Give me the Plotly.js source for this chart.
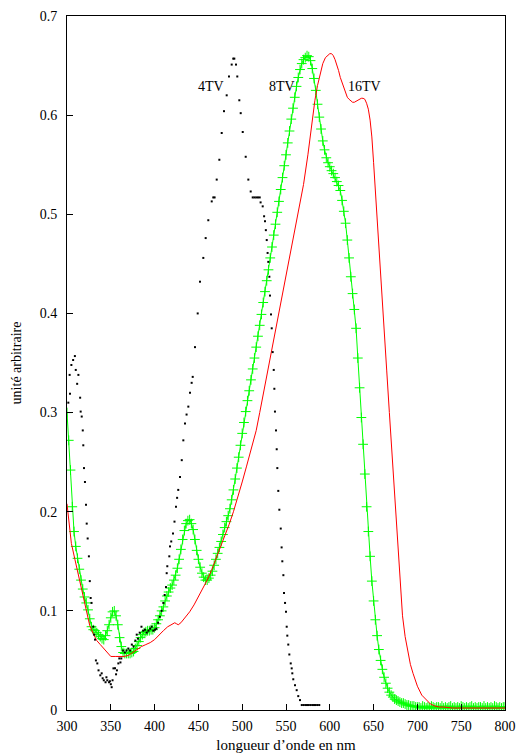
<!DOCTYPE html>
<html>
<head>
<meta charset="utf-8">
<script src="https://cdn.plot.ly/plotly-3.0.1.min.js"></script>
<style>html,body{margin:0;padding:0;background:#fff;}</style>
</head>
<body>
<div id="chart" style="width:518px;height:753px;"></div>
<script>
// 8TV: sampled every 2 nm starting at 300 nm
const tv8Start = 300;
const tv8Step = 2;
const tv8Values = [
0.300,0.272,0.242,0.205,0.180,0.165,0.153,0.142,0.131,0.122,
0.114,0.108,0.101,0.092,0.084,0.081,0.080,0.078,0.076,0.074,
0.072,0.071,0.075,0.080,0.086,0.093,0.099,0.100,0.095,0.086,
0.073,0.064,0.058,0.057,0.057,0.057,0.057,0.058,0.059,0.062,
0.065,0.069,0.073,0.076,0.078,0.079,0.080,0.080,0.081,0.081,
0.083,0.087,0.091,0.095,0.100,0.104,0.110,0.115,0.119,0.123,
0.126,0.131,0.136,0.143,0.152,0.162,0.172,0.181,0.188,0.191,
0.192,0.188,0.182,0.172,0.161,0.152,0.144,0.138,0.134,0.131,
0.131,0.133,0.136,0.140,0.146,0.152,0.158,0.164,0.170,0.177,
0.184,0.190,0.196,0.203,0.212,0.222,0.233,0.244,0.255,0.267,
0.279,0.290,0.301,0.312,0.322,0.333,0.344,0.355,0.366,0.377,
0.388,0.399,0.411,0.422,0.433,0.444,0.456,0.467,0.479,0.490,
0.502,0.513,0.525,0.537,0.549,0.560,0.572,0.584,0.596,0.607,
0.618,0.629,0.638,0.646,0.652,0.656,0.658,0.660,0.659,0.655,
0.647,0.637,0.625,0.611,0.598,0.586,0.574,0.565,0.557,0.552,
0.548,0.544,0.541,0.537,0.533,0.529,0.524,0.514,0.503,0.491,
0.474,0.456,0.437,0.420,0.404,0.385,0.355,0.325,0.295,0.268,
0.238,0.205,0.180,0.155,0.130,0.110,0.091,0.075,0.061,0.050,
0.041,0.033,0.027,0.022,0.018,0.015,0.013,0.011,0.010,0.009,
0.008,0.007,0.007,0.006,0.005,0.005,0.004,0.004,0.004,0.003,
0.003,0.003,0.002,0.004,0.003,0.002,0.003,0.002,0.004,0.003,
0.002,0.003,0.003,0.002,0.004,0.002,0.003,0.002,0.003,0.004,
0.002,0.003,0.002,0.003,0.002,0.004,0.003,0.002,0.003,0.002,
0.003,0.004,0.002,0.003,0.002,0.003,0.003,0.002,0.004,0.002,
0.003,0.002,0.003,0.002,0.004,0.003,0.002,0.003,0.002,0.003,
0.003
];

// 16TV
const tv16X = [300,302,305,309,312,315,318,320,323,326,330,334,338,342,346,350,355,360,365,370,
375,380,385,390,395,400,405,410,415,420,423,425,427,430,435,440,445,450,455,460,
465,470,475,480,485,490,495,500,505,510,516,520,525,530,535,540,545,550,555,560,
565,570,575,580,583,586,589,592,595,598,600,602,604,606,608,610,612,614,616,618,
620,622,624,626,628,630,632,634,636,638,640,642,644,646,648,650,653,656,659,662,
665,668,671,674,677,680,683,686,689,692,695,700,705,710,715,720,725,730,740,750,
760,770,780,790,800];
const tv16Y = [0.208,0.190,0.168,0.152,0.140,0.128,0.116,0.107,0.095,0.085,0.077,0.070,0.066,0.062,0.057,0.054,0.054,0.054,0.054,0.055,
0.058,0.061,0.064,0.066,0.068,0.071,0.076,0.080,0.084,0.086,0.088,0.087,0.086,0.088,0.093,0.099,0.106,0.114,0.123,0.131,
0.141,0.152,0.163,0.174,0.187,0.200,0.214,0.230,0.246,0.263,0.282,0.300,0.323,0.346,0.369,0.392,0.415,0.438,0.461,0.484,
0.507,0.530,0.560,0.596,0.615,0.630,0.642,0.652,0.658,0.661,0.662,0.662,0.660,0.656,0.651,0.645,0.638,0.633,0.627,0.622,
0.618,0.616,0.614,0.613,0.613,0.614,0.615,0.616,0.617,0.617,0.616,0.612,0.606,0.595,0.578,0.552,0.512,0.470,0.430,0.385,
0.342,0.300,0.258,0.215,0.170,0.128,0.095,0.074,0.058,0.046,0.037,0.024,0.015,0.010,0.006,0.004,0.003,0.003,0.002,0.002,
0.002,0.002,0.002,0.002,0.002];

// 4TV
const tv4X = [301.5,303,303.4,305,307,309,310,311.6,313,315,315.6,316.8,318,318.6,319.4,320.5,321.7,322.5,323.6,325,
326,327,328,330,331,332,333,334.6,336,338,339.6,340.7,342,344,345,346,348,349,350,351,
352,353,354.8,356,357,358.6,359.7,361,362,364,366,368,370,372,374,376,378,379.6,381,383,
385,387,389,391,393,395,396.7,398.5,400.5,402,404,406,408,410,411.5,413,413.8,414.5,416.8,417.6,
419,421,422.7,424.4,425.7,427,429,431,432.8,434.7,436.5,438.5,440.4,442.3,443.5,446.1,449.2,451.8,455.6,458.3,
461.3,465.2,467,468.5,470.9,473.9,476.6,479.2,482.3,484.9,488,489.8,491,492.9,494.4,496.7,498.3,500.6,504,507,
509.7,512,514,516,518,520,521,523.4,525,526,527,528,529,529.8,531,531.7,532.9,533.7,534.8,536,
536.7,537.4,538.6,539.4,540.1,541.2,542.4,544,545,545.8,547,547.7,548.9,550,550.8,551.5,552.6,553.8,555.4,556.5,
557.2,558.3,560.3,562.2,564,566,568,570,572,574,576,578,580,582,584,586,588];
const tv4Y = [0.310,0.338,0.319,0.348,0.353,0.357,0.343,0.329,0.338,0.315,0.301,0.296,0.282,0.267,0.244,0.230,0.207,0.188,0.173,0.155,
0.130,0.113,0.108,0.084,0.076,0.071,0.050,0.047,0.040,0.035,0.037,0.032,0.030,0.028,0.033,0.030,0.028,0.029,0.026,0.023,
0.030,0.042,0.042,0.036,0.040,0.047,0.052,0.048,0.052,0.060,0.058,0.060,0.062,0.060,0.066,0.064,0.070,0.076,0.072,0.078,
0.084,0.080,0.081,0.078,0.080,0.082,0.084,0.080,0.081,0.082,0.088,0.094,0.100,0.108,0.116,0.124,0.138,0.145,0.155,0.165,
0.170,0.178,0.190,0.205,0.214,0.222,0.235,0.252,0.272,0.289,0.298,0.306,0.320,0.330,0.336,0.366,0.400,0.432,0.456,0.476,
0.494,0.513,0.517,0.517,0.535,0.555,0.582,0.604,0.620,0.639,0.651,0.657,0.657,0.651,0.639,0.615,0.602,0.583,0.558,0.535,
0.523,0.517,0.517,0.517,0.517,0.517,0.512,0.508,0.498,0.493,0.484,0.474,0.461,0.452,0.437,0.418,0.399,0.385,0.361,0.343,
0.324,0.301,0.282,0.263,0.244,0.221,0.202,0.183,0.164,0.150,0.136,0.118,0.108,0.099,0.084,0.075,0.066,0.056,0.047,0.042,
0.037,0.031,0.025,0.020,0.014,0.010,0.005,0.005,0.005,0.005,0.005,0.005,0.005,0.005,0.005,0.005,0.005];

const labelTexts = ['4TV', '8TV', '16TV'];
const labelX = [464, 545, 640];
const labelY = [0.629, 0.629, 0.629];

const serif = 'Liberation Serif, Times New Roman, serif';

const traces = [
  {
    type: 'scatter', mode: 'lines+markers', name: '8TV',
    x0: tv8Start, dx: tv8Step, y: tv8Values,
    line: {color: '#00ff00', width: 1},
    marker: {symbol: 'cross-thin', size: 7, line: {color: '#00ff00', width: 1}, color: '#00ff00'}
  },
  {
    type: 'scatter', mode: 'lines', name: '16TV',
    x: tv16X, y: tv16Y,
    line: {color: '#ff0000', width: 1}
  },
  {
    type: 'scatter', mode: 'markers', name: '4TV',
    x: tv4X, y: tv4Y,
    marker: {symbol: 'square', size: 2, color: '#000000', line: {width: 0}}
  }
];

const annotations = labelTexts.map((t, i) => ({
  x: labelX[i], y: labelY[i], xref: 'x', yref: 'y', text: t, showarrow: false,
  font: {family: serif, size: 14, color: '#000'}
}));

const axisCommon = {
  ticks: 'inside', ticklen: 6, tickwidth: 1, tickcolor: '#000',
  showline: true, linecolor: '#000', linewidth: 1, mirror: true,
  showgrid: false, zeroline: false,
  tickfont: {family: serif, size: 14, color: '#000'}
};

const layout = {
  width: 518, height: 753,
  margin: {l: 67, r: 13, t: 16, b: 43},
  paper_bgcolor: '#fff', plot_bgcolor: '#fff',
  showlegend: false,
  font: {family: serif, color: '#000'},
  xaxis: Object.assign({}, axisCommon, {
    range: [300, 800], tickmode: 'linear', tick0: 300, dtick: 50,
    ticklabelstandoff: 3,
    title: {text: 'longueur d’onde en nm', font: {family: serif, size: 15, color: '#000'}, standoff: 8}
  }),
  yaxis: Object.assign({}, axisCommon, {
    range: [0, 0.7], tickmode: 'linear', tick0: 0, dtick: 0.1,
    ticklabelstandoff: 6,
    title: {text: 'unité arbitraire', font: {family: serif, size: 14, color: '#000'}, standoff: 14}
  }),
  annotations: annotations
};

Plotly.newPlot('chart', traces, layout, {displayModeBar: false, staticPlot: true});
</script>
</body>
</html>
